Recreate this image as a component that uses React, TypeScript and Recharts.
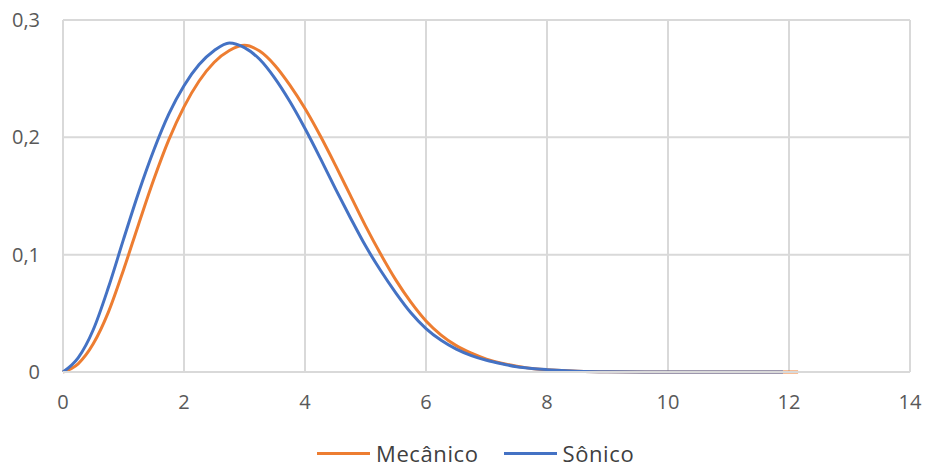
import React from "react";
import { LineChart, Line, XAxis, YAxis, CartesianGrid } from "recharts";

// x values (horizontal axis)
const xValues = [
  0, 0.25, 0.5, 0.75, 1, 1.25, 1.5, 1.75, 2, 2.25, 2.5, 2.75, 3, 3.25, 3.5,
  3.75, 4, 4.25, 4.5, 4.75, 5, 5.25, 5.5, 5.75, 6, 6.25, 6.5, 6.75, 7, 7.25,
  7.5, 7.75, 8, 8.5, 9, 10, 11, 11.9, 12.15,
];

const mecanico = [
  0, 0.007, 0.024, 0.051, 0.087, 0.126, 0.164, 0.198, 0.226, 0.248, 0.264,
  0.274, 0.2785, 0.2735, 0.2615, 0.2445, 0.2245, 0.2015, 0.1765, 0.1505,
  0.1245, 0.1005, 0.0785, 0.0595, 0.0435, 0.0315, 0.0225, 0.016, 0.011,
  0.0075, 0.005, 0.003, 0.002, 0.0007, 0.0002, 0, 0, 0, 0,
];

const sonico = [
  0, 0.012, 0.036, 0.072, 0.113, 0.153, 0.189, 0.22, 0.244, 0.262, 0.274,
  0.2805, 0.2765, 0.2665, 0.2505, 0.2305, 0.2075, 0.1825, 0.1565, 0.1315,
  0.1075, 0.0865, 0.0675, 0.0505, 0.037, 0.027, 0.0195, 0.014, 0.01, 0.007,
  0.0045, 0.003, 0.002, 0.0007, 0.0002, 0, 0, 0, null,
];

const xTicks = [0, 2, 4, 6, 8, 10, 12, 14];
const yTicks = [0, 0.1, 0.2, 0.3];

const seriesNames = ["Mecânico", "Sônico"];
const seriesColors = ["#ED7D31", "#4472C4"];

const data = xValues.map((x, i) => ({
  x,
  mecanico: mecanico[i],
  sonico: sonico[i],
}));

const FONT = "'Open Sans', 'Noto Sans', sans-serif";

function fmtY(v: number) {
  return v === 0 ? "0" : String(v).replace(".", ",");
}

function CustomLegend() {
  return (
    <div
      style={{
        position: "absolute",
        left: 317,
        top: 439,
        height: 29,
        display: "flex",
        alignItems: "center",
        fontFamily: FONT,
        fontSize: 22,
        letterSpacing: 0.6,
        color: "#404040",
        lineHeight: "29px",
      }}
    >
      {seriesNames.map((name, i) => (
        <div
          key={name}
          style={{ display: "flex", alignItems: "center", marginRight: 25 }}
        >
          <span
            style={{
              display: "inline-block",
              width: 53,
              height: 3,
              background: seriesColors[i],
              marginRight: 6,
            }}
          />
          <span>{name}</span>
        </div>
      ))}
    </div>
  );
}

export default function App() {
  return (
    <div
      style={{
        position: "absolute",
        left: 0,
        top: 0,
        width: 928,
        height: 468,
        background: "#fff",
      }}
    >
      <LineChart
        width={928}
        height={468}
        data={data}
        margin={{ top: 20, right: 18, left: 0, bottom: 66 }}
      >
        <CartesianGrid stroke="#d9d9d9" strokeWidth={2} />
        <XAxis
          dataKey="x"
          type="number"
          domain={[0, 14]}
          ticks={xTicks}
          height={30}
          tickLine={false}
          axisLine={{ stroke: "#d9d9d9", strokeWidth: 2 }}
          tickMargin={17}
          tick={{ fill: "#595959", fontSize: 20, fontFamily: FONT }}
        />
        <YAxis
          type="number"
          domain={[0, 0.3]}
          ticks={yTicks}
          width={63}
          tickLine={false}
          axisLine={false}
          tickMargin={17}
          tickFormatter={fmtY}
          tick={{ fill: "#595959", fontSize: 20, fontFamily: FONT }}
        />
        <Line
          type="monotone"
          dataKey="mecanico"
          name={seriesNames[0]}
          stroke={seriesColors[0]}
          strokeWidth={3}
          dot={false}
          isAnimationActive={false}
        />
        <Line
          type="monotone"
          dataKey="sonico"
          name={seriesNames[1]}
          stroke={seriesColors[1]}
          strokeWidth={3}
          dot={false}
          isAnimationActive={false}
        />
      </LineChart>
      <CustomLegend />
    </div>
  );
}
